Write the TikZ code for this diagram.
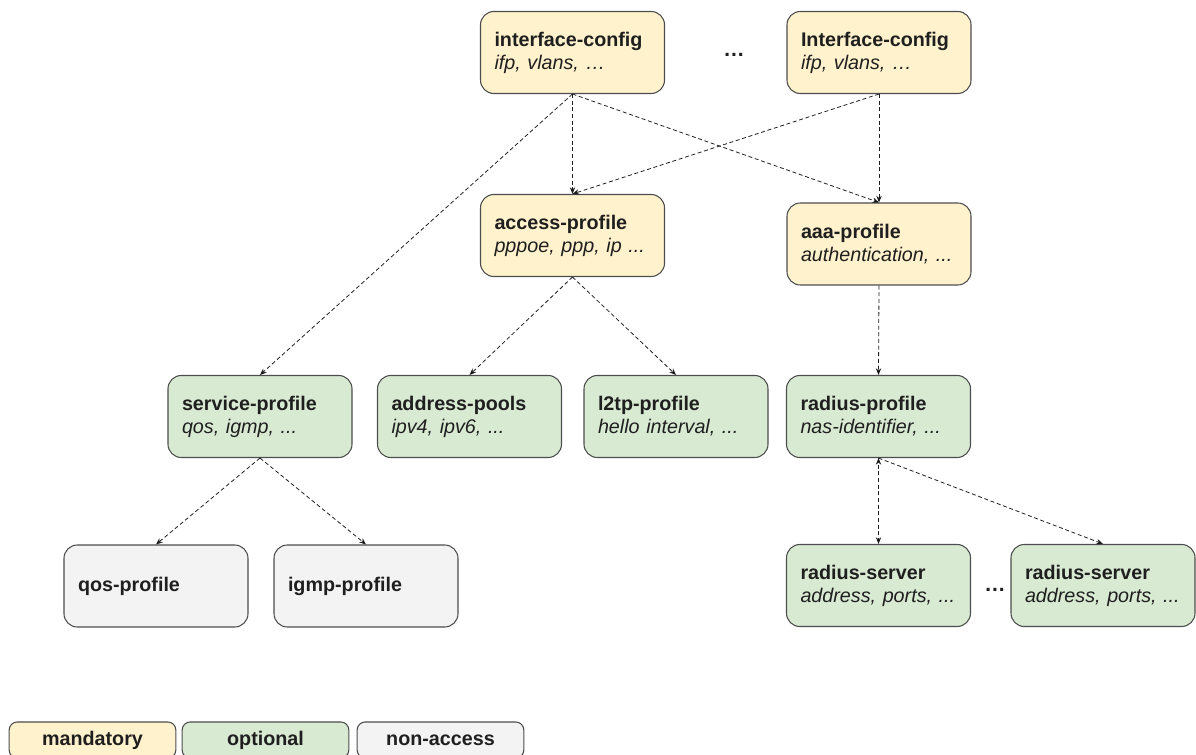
\documentclass[tikz,border=0pt]{standalone}
\usepackage{fontspec}
\setmainfont{Liberation Sans}
\usetikzlibrary{arrows.meta,positioning}
\definecolor{mandfill}{HTML}{FFF2CC}
\definecolor{optfill}{HTML}{D9EAD3}
\definecolor{naccfill}{HTML}{F3F3F3}
\definecolor{boxline}{HTML}{4D4D4D}
\definecolor{ink}{HTML}{1F1F1F}
\tikzset{
  profile/.style={draw=boxline,line width=0.8pt,rounded corners=10pt,text=ink,
    text width=117pt,inner xsep=10.5pt,inner ysep=0pt,minimum height=61.5pt,
    align=left,font=\fontsize{14.8}{17.3}\selectfont},
  mandatory/.style={profile,fill=mandfill},
  optional/.style={profile,fill=optfill},
  nonaccess/.style={profile,fill=naccfill},
  legend/.style={draw=boxline,line width=0.8pt,rounded corners=6pt,text=ink,
    minimum width=125pt,minimum height=27pt,inner sep=0pt,
    font=\fontsize{14.8}{17.3}\selectfont\bfseries},
  dep/.style={-{Stealth[length=5pt,width=4pt]},dash pattern=on 3pt off 2pt,
    line width=0.6pt,draw=ink}
}
\begin{document}
\begin{tikzpicture}[x=0.75pt,y=-0.75pt]
\useasboundingbox (0,0) rectangle (1196,755);
\node[mandatory] (IC1) at (572.5,52.5) {\textbf{interface-config}\\\textit{ifp, vlans, …}};
\node[mandatory] (IC2) at (879,52.5) {\textbf{Interface-config}\\\textit{ifp, vlans, …}};
\node[font=\fontsize{16}{18}\selectfont\bfseries,text=ink] (ICdots) at (734,55) {…};
\node[mandatory] (AP) at (572.5,235.5) {\textbf{access-profile}\\\textit{pppoe, ppp, ip ...}};
\node[mandatory] (AAA) at (879,244) {\textbf{aaa-profile}\\\textit{authentication, ...}};
\node[optional] (SP) at (260,416.5) {\textbf{service-profile}\\\textit{qos, igmp, ...}};
\node[optional] (Pools) at (469.5,416.5) {\textbf{address-pools}\\\textit{ipv4, ipv6, ...}};
\node[optional] (L2TP) at (676,416.5) {\textbf{l2tp-profile}\\\textit{hello interval, ...}};
\node[optional] (RP) at (878.5,416.5) {\textbf{radius-profile}\\\textit{nas-identifier, ...}};
\node[nonaccess] (QoS) at (156,586) {\textbf{qos-profile}};
\node[nonaccess] (IGMP) at (366,586) {\textbf{igmp-profile}};
\node[optional] (RS1) at (878.5,585.5) {\textbf{radius-server}\\\textit{address, ports, ...}};
\node[optional] (RS2) at (1103,585.5) {\textbf{radius-server}\\\textit{address, ports, ...}};
\node[font=\fontsize{16}{18}\selectfont\bfseries,text=ink] (RSdots) at (995,590) {…};
\node[legend,fill=mandfill] (LM) at (92.5,740) {mandatory};
\node[legend,fill=optfill] (LO) at (265.5,740) {optional};
\node[legend,fill=naccfill] (LN) at (440.5,740) {non-access};
\path[dep]
(IC1.south) edge (AP.north)
(IC1.south) edge (AAA.north)
(IC1.south) edge (SP.north)
(IC2.south) edge (AP.north)
(IC2.south) edge (AAA.north)
(AP.south) edge (Pools.north)
(AP.south) edge (L2TP.north)
(AAA.south) edge (RP.north)
(SP.south) edge (QoS.north)
(SP.south) edge (IGMP.north)
(RP.south) edge (RS1.north)
(RP.south) edge (RS2.north);
\end{tikzpicture}
\end{document}
